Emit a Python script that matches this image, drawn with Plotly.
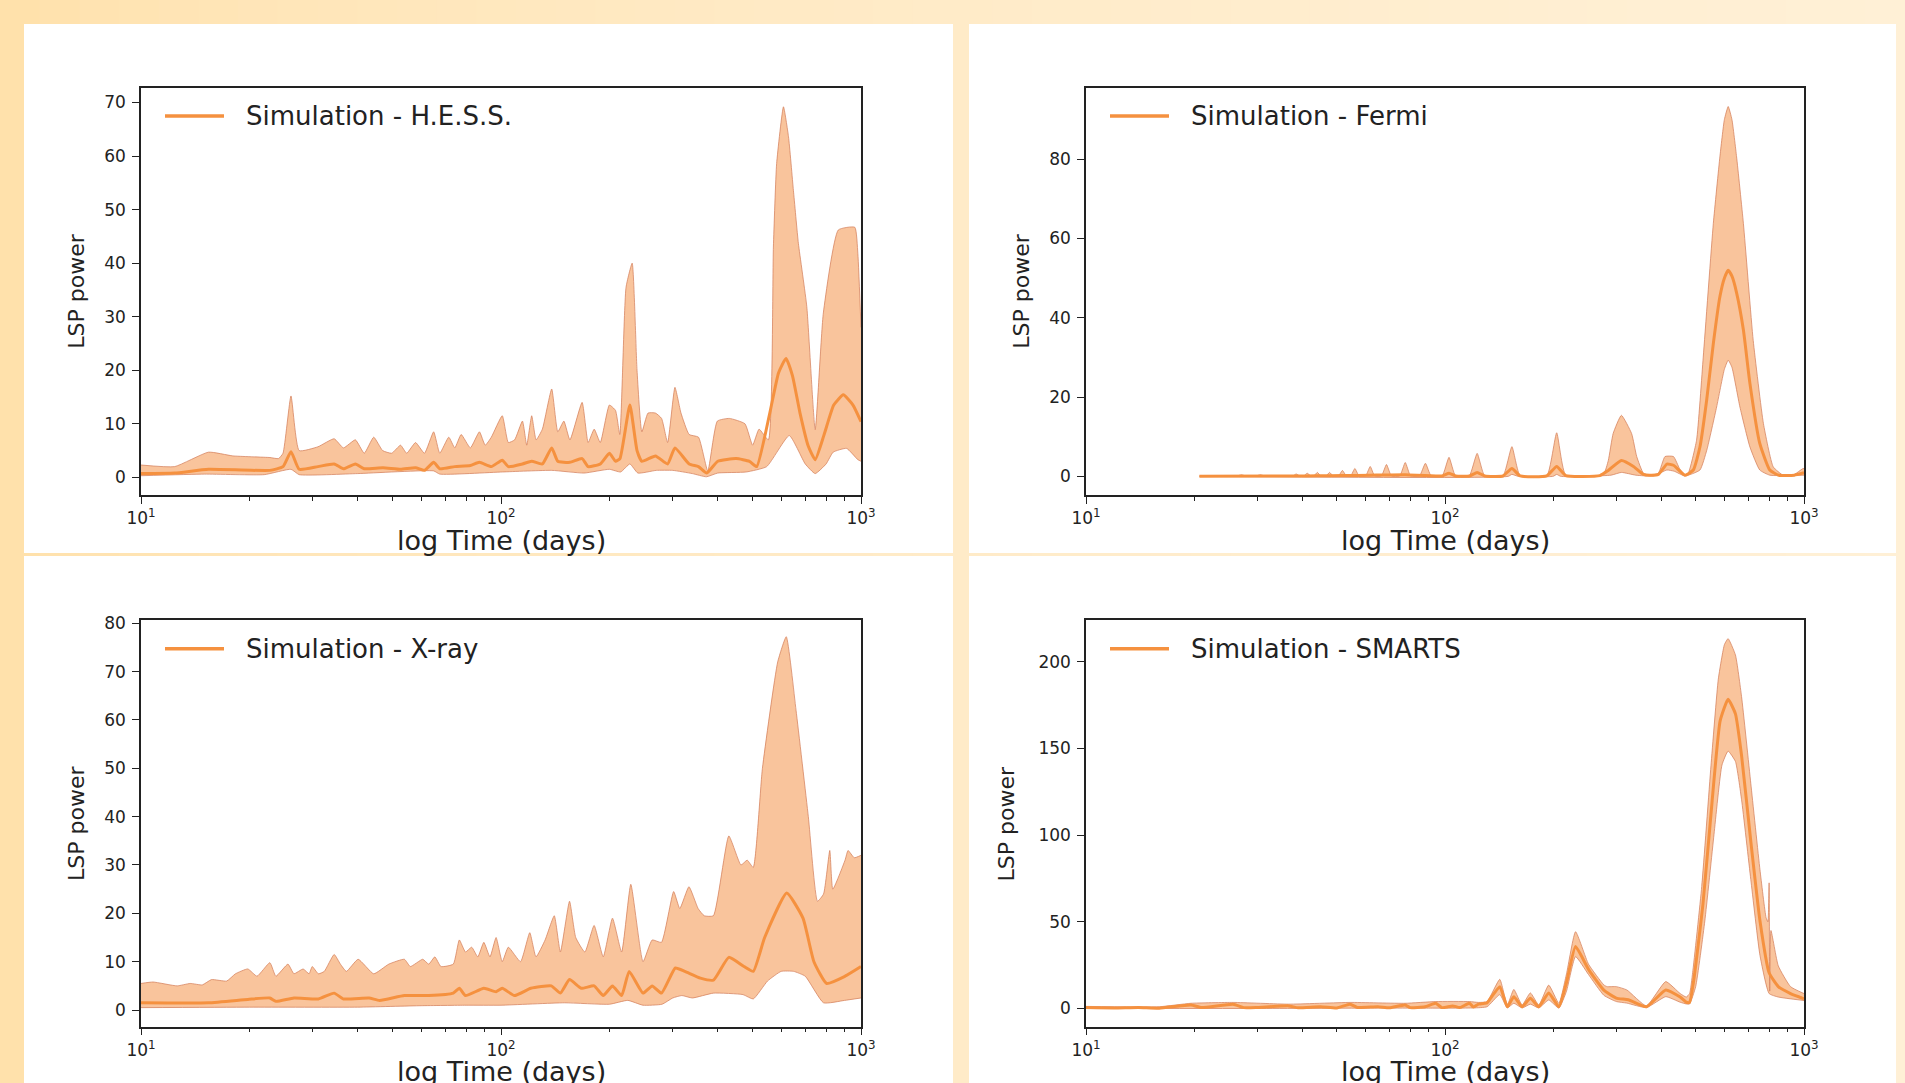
import plotly.graph_objects as go

W, H = 1905, 1083

# ---------------- data (period in days, LSP power) ----------------
HESS_UP_DAYS = [10, 12.4, 15.4, 18, 22.8, 24.1, 24.8, 26.1, 27.5, 31.0, 34.4, 36.5, 39.4, 41.7, 44.3,
                46.9, 49.7, 52.6, 54.7, 57.9, 61.3, 65.0, 67.6, 71.6, 74.4, 77.5, 82.2, 87.1, 90.4, 94.0,
                100.8, 104.8, 109.1, 114.7, 117.9, 121.7, 125.2, 130.3, 138.3, 143.8, 149.5, 155.4, 168,
                174.6, 181.5, 188.7, 200, 208, 213.8, 222.5, 231.4, 238.7, 246.2, 256.1, 268.6, 279.3,
                290.3, 304.2, 316.2, 333.1, 353.6, 375.3, 399, 431, 476, 500, 521, 553, 571, 583, 609,
                629, 649, 670, 707, 746, 786, 865, 961, 980, 1000]
HESS_UP = [2.3, 2.0, 4.7, 4.0, 3.7, 3.5, 4.5, 15.2, 5.0, 5.7, 7.2, 5.5, 7.0, 4.5, 7.5,
           5.0, 4.5, 6.0, 4.5, 6.5, 4.5, 8.5, 4.5, 7.5, 5.5, 8.0, 5.5, 8.5, 6.0, 7.5,
           11.5, 6.5, 7.0, 10.5, 6.0, 11.5, 7.0, 9.0, 16.5, 8.5, 10.5, 7.0, 14.0,
           6.5, 9.0, 6.5, 13.5, 12.5, 8.0, 35.5, 40.0, 20.0, 8.5, 12.0, 12.0, 11.0,
           6.5, 16.8, 12.0, 8.0, 7.5, 1.2, 10.5, 11.0, 10.0, 6.0, 9.0, 7.0, 43.0, 58.6, 69.2,
           63.6, 53.6, 43.7, 31.9, 8.9, 30.7, 46.2, 46.7, 41.8, 28.0]
HESS_MEAN_DAYS = [10, 12.4, 15.4, 22.8, 24.8, 26.1, 27.5, 31, 34.4, 36.5, 39.4, 41.7, 47, 52.6, 57.9,
                  61.3, 65, 67.6, 74.4, 82.2, 87.1, 94, 100.8, 104.8, 114.7, 121.7, 130.3, 138.3, 143.8,
                  155.4, 168, 174.6, 188.7, 200, 208, 214, 228, 238.7, 246.2, 268.6, 290.3, 304.2, 333.1,
                  353.6, 373, 400, 450, 490, 513, 558, 590, 619, 645, 677, 714, 746, 790, 840, 893,
                  950, 1000]
HESS_MEAN = [0.7, 0.8, 1.5, 1.3, 2.0, 4.8, 1.5, 2.0, 2.5, 1.6, 2.5, 1.6, 1.8, 1.5, 1.8,
             1.3, 2.8, 1.6, 2.0, 2.2, 2.8, 2.0, 3.2, 2.0, 2.5, 3.0, 2.5, 5.5, 3.0,
             2.8, 3.5, 2.0, 2.5, 4.5, 3.0, 3.5, 13.5, 5.0, 3.0, 4.0, 2.5, 5.5, 2.5,
             2.0, 0.8, 3.0, 3.5, 3.0, 2.0, 12.0, 19.5, 22.2, 19.0, 12.0, 5.8, 3.3, 8.0, 13.5, 15.4,
             13.5, 10.4]
HESS_LOW_DAYS = [10, 15, 22, 26.1, 27.5, 40, 65, 67.6, 100.8, 138.3, 170, 200, 215, 228, 240, 270,
                 300, 340, 372, 400, 480, 547, 632, 700, 746, 800, 837, 912, 980, 1000]
HESS_LOW = [0.3, 0.6, 0.5, 1.5, 0.5, 0.7, 1.2, 0.6, 1.0, 1.3, 0.8, 1.5, 1.0, 2.5, 0.8, 1.3,
            1.3, 0.7, 0.1, 0.8, 1.0, 2.0, 7.8, 2.5, 0.7, 2.5, 4.7, 5.4, 3.3, 3.0]

FERMI_UP_DAYS = [20.7, 26.3, 27.1, 27.9, 29.7, 30.6, 31.5, 37.6, 38.5, 39.4, 40.4, 41.3, 42.3, 43.1,
                 44.1, 45.1, 46.6, 47.7, 48.8, 50.5, 51.8, 53.1, 54.6, 56.1, 57.6, 60.1, 61.9, 63.7,
                 66.5, 68.7, 70.9, 74.8, 77.5, 80.2, 84.9, 88.2, 91.5, 98.2, 102.6, 107, 116.8, 122.9,
                 129, 145, 153.6, 162, 192, 204.7, 217, 276, 285, 294, 310, 331, 342, 357, 372, 393,
                 410, 433, 450, 466, 476, 502, 524, 559, 583, 600, 615, 630, 649, 678, 722, 771, 821,
                 875, 940, 990, 1000]
FERMI_UP = [0.1, 0.1, 0.4, 0.1, 0.1, 0.4, 0.1, 0.1, 0.6, 0.1, 0.1, 0.8, 0.1, 0.1,
            1.0, 0.1, 0.1, 1.0, 0.1, 0.1, 1.5, 0.1, 0.1, 2.0, 0.1, 0.1, 2.5, 0.1,
            0.1, 3.0, 0.1, 0.1, 3.5, 0.1, 0.1, 3.3, 0.1, 0.1, 4.8, 0.1, 0.1, 5.8,
            0.1, 0.1, 7.5, 0.1, 0.1, 11.0, 0.3, 0.5, 4.0, 10.8, 15.4, 10.8, 5.0, 0.8, 0.3, 0.8,
            5.0, 5.0, 2.0, 0.3, 0.8, 9.1, 30.1, 63.8, 80.6, 90.0, 93.3, 90.0, 80.6, 63.8, 34.3, 13.3, 2.4,
            0.3, 0.5, 1.9, 2.0]
FERMI_MEAN_DAYS = [20.7, 38.5, 44.1, 51.8, 61.9, 77.5, 98, 102.6, 107, 117, 122.9, 129, 145, 153.6,
                   162, 192, 204.7, 217, 270, 285, 310, 335, 357, 372, 393, 415, 433, 466, 491.6, 513,
                   535.6, 559, 583, 600, 615, 630, 649, 678, 707, 753, 803, 850, 940, 1000]
FERMI_MEAN = [0.05, 0.1, 0.15, 0.2, 0.3, 0.4, 0.1, 0.8, 0.1, 0.1, 1.0, 0.1, 0.1, 2.0,
              0.1, 0.1, 2.5, 0.2, 0.2, 1.5, 4.0, 2.5, 0.5, 0.3, 0.5, 3.1, 2.8, 0.3, 1.6, 7.4,
              19.2, 33.5, 45.3, 50.0, 52.0, 50.5, 46.3, 36.9, 23.4, 8.3, 1.6, 0.3, 0.3, 0.9]
FERMI_LOW_DAYS = [20.7, 150, 153.6, 160, 200, 204.7, 210, 290, 310, 340, 380, 415, 435, 466, 513,
                  536, 571, 600, 615, 630, 663, 707, 753, 803, 1000]
FERMI_LOW = [0.0, 0.0, 0.5, 0.0, 0.0, 0.5, 0.0, 0.3, 1.0, 0.3, 0.1, 1.6, 1.3, 0.1, 1.6,
             6.6, 17.5, 27.0, 29.3, 27.5, 17.5, 7.4, 1.6, 0.3, 0.3]

XRAY_UP_DAYS = [10, 10.8, 12.6, 13.7, 14.8, 15.7, 17.3, 18.3, 19.8, 21.0, 22.8, 23.7, 25.6, 26.6,
                28.2, 29.3, 29.9, 31.1, 32.3, 34.4, 35.8, 37.2, 40.1, 44.3, 48.8, 53.9, 56.0, 60.6,
                63.0, 65.5, 68.1, 73.7, 76.6, 79.7, 82.9, 86.2, 89.6, 93.2, 96.9, 100.8, 104.8, 113.3,
                120.2, 125.1, 132.6, 140.6, 146.2, 155, 161.3, 171, 181.4, 192.3, 204, 216.3, 229.4,
                248, 263, 279, 301.7, 313.8, 332.7, 352.8, 366.9, 389, 429.4, 464, 482.8, 502, 532.3,
                587, 620, 660, 714, 757, 787, 819, 835, 903, 920.5, 958, 1000]
XRAY_UP = [5.5, 5.8, 5.0, 5.5, 5.2, 6.3, 6.0, 7.5, 8.5, 7.0, 9.8, 7.0, 9.5, 7.5,
           8.5, 7.5, 9.0, 7.5, 8.0, 11.5, 9.5, 8.0, 10.5, 7.5, 9.5, 10.5, 9.0, 10.5,
           9.5, 11.0, 9.0, 9.5, 14.5, 12.0, 13.0, 11.0, 14.0, 11.0, 15.0, 10.0, 13.0, 10.0,
           16.0, 11.0, 14.5, 19.5, 12.0, 22.5, 15.0, 12.0, 17.5, 11.0, 19.0, 12.0, 26.0,
           10.0, 14.5, 14.0, 24.5, 21.0, 25.5, 21.0, 19.5, 19.5, 36.0, 30.0, 31.0, 29.5, 50.0,
           72.0, 77.2, 62.0, 40.0, 22.5, 24.0, 33.0, 25.0, 31.0, 33.0, 31.5, 32.0]
XRAY_MEAN_DAYS = [10, 15.4, 19.8, 22.8, 23.7, 26.6, 31.1, 34.4, 36.5, 43, 46, 53.9, 63, 73.7, 76.6,
                  79.7, 89.6, 96.9, 100.8, 109, 121, 138, 146.2, 155, 167, 181.4, 192.3, 204, 216.3,
                  227, 248, 263, 279, 305, 324, 358, 389, 429.4, 473, 502, 540, 622, 690, 740, 803,
                  903, 1000]
XRAY_MEAN = [1.5, 1.5, 2.2, 2.5, 1.8, 2.5, 2.3, 3.5, 2.3, 2.5, 2.0, 3.0, 3.0, 3.5, 4.5,
             3.0, 4.5, 3.8, 4.5, 3.0, 4.5, 5.0, 3.5, 6.3, 4.5, 5.0, 3.0, 5.0, 3.0,
             8.0, 3.5, 5.0, 3.5, 8.7, 8.0, 6.6, 6.2, 10.9, 9.0, 8.0, 15.0, 24.2, 19.0, 10.0, 5.5,
             7.0, 9.0]
XRAY_LOW_DAYS = [10, 20, 40, 60, 80, 100, 150, 200, 225, 248, 280, 300, 318, 340, 389, 470, 502, 550,
                 600, 650, 700, 787, 900, 1000]
XRAY_LOW = [0.5, 0.6, 0.6, 0.9, 1.0, 1.0, 1.5, 1.2, 2.0, 1.0, 1.2, 2.5, 3.0, 2.5, 3.5, 3.2, 2.3, 6.0,
            8.0, 8.0, 7.0, 1.5, 2.0, 2.5]

SMARTS_UP_DAYS = [10, 16, 19.6, 25.7, 36.7, 54.4, 77.4, 94.2, 117, 124, 131, 142.1, 149.1, 155.5, 164,
                  172.9, 182.5, 194.5, 207.6, 218, 231, 251, 277, 283, 300, 321, 364, 412, 452, 470,
                  480, 489.5, 519, 550.6, 577.1, 600.3, 614.6, 644.2, 670, 710.8, 754, 784, 793.3,
                  799.5, 802.7, 809, 848, 917.3, 1000]
SMARTS_UP = [1.2, 1.0, 3.0, 3.5, 2.5, 3.5, 3.0, 4.0, 4.0, 3.5, 4.0, 16.8, 2.0, 11.0, 2.0,
             9.0, 2.0, 13.5, 3.0, 20.0, 44.3, 25.6, 13.6, 12.6, 12.6, 10.7, 1.5, 15.5, 8.6, 6.6,
             8.6, 20.6, 70.5, 140.0, 190.0, 210.0, 213.4, 204.0, 180.0, 130.0, 80.0, 52.5, 50.0,
             72.5, 10.0, 45.0, 24.6, 12.6, 8.6]
SMARTS_MEAN_DAYS = [10, 12, 14, 16, 19.6, 21, 25.7, 27.5, 30, 36.7, 39, 45, 50, 54.4, 57, 65, 70, 77.4,
                    80, 88, 94.2, 98, 105, 110, 117, 120, 124, 128.9, 131, 142.1, 149.1, 155.5, 164,
                    172.9, 182.5, 194.5, 207.6, 218, 231, 251, 277, 300, 324, 364, 412, 452, 470, 480,
                    493.3, 523.2, 554.9, 584, 614.6, 644.2, 670, 710.8, 754, 799.5, 848, 917.3, 1000]
SMARTS_MEAN = [0.5, 0.3, 0.6, 0.2, 2.0, 0.5, 2.5, 0.5, 0.6, 1.5, 0.4, 1.0, 0.3, 2.5, 0.6, 1.0, 0.4, 2.0,
               0.5, 1.0, 3.0, 0.5, 1.5, 0.5, 3.0, 0.8, 2.5, 3.0, 3.2, 12.6, 1.0, 6.8, 1.0,
               5.9, 1.0, 9.0, 1.0, 15.0, 35.7, 22.6, 10.6, 6.0, 5.0, 1.0, 10.7, 6.6, 3.6, 3.6,
               16.6, 60.5, 120.0, 166.0, 178.4, 170.0, 146.0, 96.5, 50.5, 20.6, 12.6, 8.6, 5.6]
SMARTS_LOW_DAYS = [10, 30, 60, 90, 120, 131, 142.1, 149.1, 155.5, 164, 172.9, 182.5, 194.5, 207.6, 218,
                   231, 251, 277, 300, 321, 364, 412, 452, 470, 480, 499.2, 529.4, 561.5, 590.9, 614.6,
                   644.2, 670, 710.8, 754, 799.5, 848, 1000]
SMARTS_LOW = [0.0, 0.0, 0.2, 0.2, 0.3, 1.0, 8.0, 0.3, 3.0, 0.3, 2.5, 0.3, 4.9, 0.2, 10.0,
              29.9, 19.6, 7.6, 4.0, 3.1, 0.5, 6.8, 3.6, 2.6, 2.6, 12.6, 50.5, 100.5, 140.5, 148.5,
              142.5, 120.5, 74.5, 30.6, 8.6, 6.6, 4.6]

LEGEND_NAMES = ["Simulation - H.E.S.S.", "Simulation - Fermi", "Simulation - X-ray", "Simulation - SMARTS"]
Y_RANGES = [[-3.3, 72.8], [-4.7, 98.1], [-3.4, 80.6], [-10.4, 224.0]]
Y_DTICKS = [10, 20, 10, 50]
X_TICKVALS = [10, 100, 1000]
X_TICKTEXT = ["10<sup>1</sup>", "10<sup>2</sup>", "10<sup>3</sup>"]
X_MINOR = [20, 30, 40, 50, 60, 70, 80, 90, 200, 300, 400, 500, 600, 700, 800, 900]

SERIES = [
    (HESS_UP_DAYS, HESS_UP, HESS_MEAN_DAYS, HESS_MEAN, HESS_LOW_DAYS, HESS_LOW),
    (FERMI_UP_DAYS, FERMI_UP, FERMI_MEAN_DAYS, FERMI_MEAN, FERMI_LOW_DAYS, FERMI_LOW),
    (XRAY_UP_DAYS, XRAY_UP, XRAY_MEAN_DAYS, XRAY_MEAN, XRAY_LOW_DAYS, XRAY_LOW),
    (SMARTS_UP_DAYS, SMARTS_UP, SMARTS_MEAN_DAYS, SMARTS_MEAN, SMARTS_LOW_DAYS, SMARTS_LOW),
]

# ---------------- style ----------------
LINE_C = "#F5913F"
FILL_C = "#F9C49C"
EDGE_C = "rgba(212,128,92,0.75)"
AX_C = "#222222"
FONT = "DejaVu Sans"
SMOOTH = 0.45

# plot-area pixel boxes (left, top, right, bottom)
BOXES = [(141, 87.5, 861, 495), (1086, 87.5, 1804, 495),
         (141, 620.3, 861, 1026.5), (1086, 620.3, 1804, 1026.5)]
# white panel boxes
PANELS = [(24, 24, 953, 553), (969, 24, 1896, 553), (24, 556, 953, 1083), (969, 556, 1896, 1083)]
YTITLE_X = [76.5, 1021.5, 76.5, 1006]


def px(x):
    return x / W


def py(y):
    return 1 - y / H


fig = go.Figure()
shapes = []
annotations = []

# background gradient
NSTR = 48
for i in range(NSTR):
    t = (i + 0.5) / NSTR
    f = t ** 0.5
    g = 223 + (240 - 223) * f
    b = 166 + (214 - 166) * f
    shapes.append(dict(type="rect", xref="paper", yref="paper", layer="below",
                       x0=i / NSTR, x1=(i + 1) / NSTR + 0.001, y0=0, y1=1,
                       fillcolor=f"rgb(255,{g:.0f},{b:.0f})", line=dict(width=0)))
for (l, t, r, b) in PANELS:
    shapes.append(dict(type="rect", xref="paper", yref="paper", layer="below",
                       x0=px(l), x1=px(r), y0=py(b), y1=py(t),
                       fillcolor="white", line=dict(width=0)))

for k, (ud, uv, md, mv, ld, lv) in enumerate(SERIES):
    ax = "" if k == 0 else str(k + 1)
    xa, ya = "x" + ax, "y" + ax
    fig.add_trace(go.Scatter(x=ld, y=lv, mode="lines",
                             line=dict(color=EDGE_C, width=1, shape="spline", smoothing=SMOOTH),
                             xaxis=xa, yaxis=ya, showlegend=False, hoverinfo="skip"))
    fig.add_trace(go.Scatter(x=ud, y=uv, mode="lines",
                             line=dict(color=EDGE_C, width=1, shape="spline", smoothing=SMOOTH),
                             fill="tonexty", fillcolor=FILL_C,
                             xaxis=xa, yaxis=ya, showlegend=False, hoverinfo="skip"))
    fig.add_trace(go.Scatter(x=md, y=mv, mode="lines",
                             line=dict(color=LINE_C, width=3, shape="spline", smoothing=SMOOTH),
                             name=LEGEND_NAMES[k], xaxis=xa, yaxis=ya, showlegend=False))

    l, t, r, b = BOXES[k]
    fig.layout["xaxis" + ax] = dict(
        type="log", range=[1, 3], domain=[px(l), px(r)], anchor=ya, automargin=False,
        showgrid=False, zeroline=False, showline=True, mirror=True,
        linecolor=AX_C, linewidth=1.5, ticks="outside", ticklen=7, tickwidth=1.3, tickcolor=AX_C,
        tickmode="array", tickvals=X_TICKVALS, ticktext=X_TICKTEXT,
        tickfont=dict(family=FONT, size=17, color=AX_C),
        minor=dict(ticks="outside", ticklen=4, tickwidth=1, tickcolor=AX_C,
                   tickmode="array", tickvals=X_MINOR, showgrid=False),
    )
    fig.layout["yaxis" + ax] = dict(
        range=Y_RANGES[k], domain=[py(b), py(t)], anchor=xa, automargin=False,
        showgrid=False, zeroline=False, showline=True, mirror=True,
        linecolor=AX_C, linewidth=1.5, ticks="outside", ticklen=7, tickwidth=1.3, tickcolor=AX_C,
        tick0=0, dtick=Y_DTICKS[k], ticklabelstandoff=3,
        tickfont=dict(family=FONT, size=17, color=AX_C),
    )

    # legend (line sample + label)
    ly = t + 28.5
    shapes.append(dict(type="line", xref="paper", yref="paper", x0=px(l + 24), x1=px(l + 83),
                       y0=py(ly), y1=py(ly), line=dict(color=LINE_C, width=3.5)))
    annotations.append(dict(text=LEGEND_NAMES[k], xref="paper", yref="paper",
                            x=px(l + 103), y=py(ly), xanchor="left", yanchor="middle",
                            showarrow=False, font=dict(family=FONT, size=26, color=AX_C)))
    # axis titles
    annotations.append(dict(text="log Time (days)", xref="paper", yref="paper",
                            x=px((l + r) / 2), y=py(b + 45), xanchor="center", yanchor="middle",
                            showarrow=False, font=dict(family=FONT, size=27, color=AX_C)))
    annotations.append(dict(text="LSP power", xref="paper", yref="paper", textangle=-90,
                            x=px(YTITLE_X[k]), y=py((t + b) / 2), xanchor="center", yanchor="middle",
                            showarrow=False, font=dict(family=FONT, size=22, color=AX_C)))

fig.update_layout(
    width=W, height=H, margin=dict(l=0, r=0, t=0, b=0, pad=0, autoexpand=False),
    paper_bgcolor="#FFE8C4", plot_bgcolor="white", showlegend=False,
    shapes=shapes, annotations=annotations,
)

fig.write_html("out.html",
               post_script="document.body.style.margin='0';document.body.style.overflow='hidden';")
